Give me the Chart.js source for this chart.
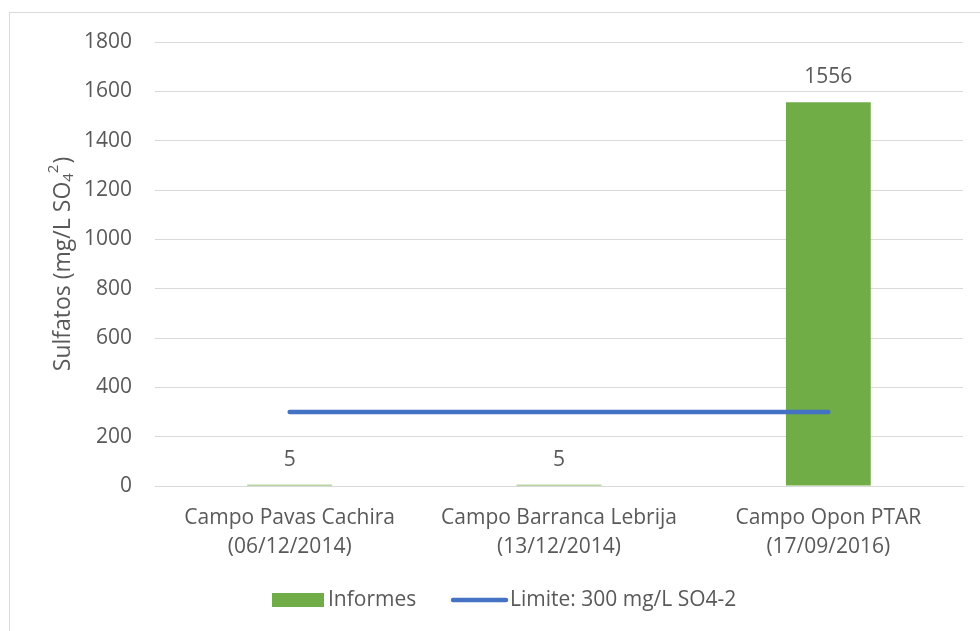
<!DOCTYPE html>
<html>
<head>
<meta charset="utf-8">
<script src="https://cdn.jsdelivr.net/npm/chart.js@4"></script>
<style>
  html, body { margin: 0; padding: 0; background: #fff; }
  #wrap { width: 980px; height: 631px; position: relative; }
</style>
</head>
<body>
<div id="wrap"><canvas id="c" width="980" height="631"></canvas></div>
<script>
const categories = [
  ["Campo Pavas Cachira", "(06/12/2014)"],
  ["Campo Barranca Lebrija", "(13/12/2014)"],
  ["Campo Opon PTAR", "(17/09/2016)"]
];
const informesValues = [5, 5, 1556];
const limiteValues = [300, 300, 300];
const informesLabel = "Informes";
const limiteLabel = "Limite: 300 mg/L SO4-2";
const yTicks = [0, 200, 400, 600, 800, 1000, 1200, 1400, 1600, 1800];

const FONT = "'Open Sans', sans-serif";
const TEXT = "#595959";
const GREEN = "#70AD47";
const BLUE = "#4472C4";
const GRID = "#D9D9D9";
const FS = 21;

const frame = {
  id: 'frame',
  beforeDraw(chart) {
    const ctx = chart.ctx;
    ctx.save();
    ctx.strokeStyle = GRID;
    ctx.lineWidth = 1;
    ctx.strokeRect(9.5, 12.5, 1000, 1000);
    ctx.restore();
  }
};

const yTitle = {
  id: 'yTitle',
  afterDraw(chart) {
    const ctx = chart.ctx;
    const a = chart.chartArea;
    const cy = (a.top + a.bottom) / 2;
    const cx = 63;
    const main = 23, small = 15;
    const t1 = "Sulfatos (mg/L SO", sub = "4", sup = "2", t2 = ")";
    ctx.save();
    ctx.translate(cx, cy);
    ctx.rotate(-Math.PI / 2);
    ctx.fillStyle = TEXT;
    ctx.textBaseline = 'middle';
    ctx.textAlign = 'left';
    ctx.font = main + "px " + FONT;
    const w1 = ctx.measureText(t1).width;
    const w2 = ctx.measureText(t2).width;
    ctx.font = small + "px " + FONT;
    const ws = ctx.measureText(sub).width;
    const wp = ctx.measureText(sup).width;
    const total = w1 + ws + wp + 1 + w2;
    let x = -total / 2;
    ctx.font = main + "px " + FONT;
    ctx.fillText(t1, x, 0);
    x += w1;
    ctx.font = small + "px " + FONT;
    ctx.fillText(sub, x, 6);
    x += ws;
    ctx.fillText(sup, x, -9);
    x += wp + 1;
    ctx.font = main + "px " + FONT;
    ctx.fillText(t2, x, 0);
    ctx.restore();
  }
};

const valueLabels = {
  id: 'valueLabels',
  afterDatasetsDraw(chart) {
    const ctx = chart.ctx;
    const meta = chart.getDatasetMeta(0);
    ctx.save();
    ctx.fillStyle = TEXT;
    ctx.font = FS + "px " + FONT;
    ctx.textAlign = 'center';
    ctx.textBaseline = 'middle';
    meta.data.forEach((bar, i) => {
      ctx.fillText(String(informesValues[i]), bar.x, bar.y - 25);
    });
    ctx.restore();
  }
};

const customLegend = {
  id: 'customLegend',
  afterDraw(chart) {
    const ctx = chart.ctx;
    const y = chart.chartArea.bottom + 114;
    ctx.save();
    ctx.font = FS + "px " + FONT;
    ctx.textBaseline = 'middle';
    ctx.textAlign = 'left';
    ctx.fillStyle = GREEN;
    ctx.fillRect(272, y - 7, 52, 14);
    ctx.fillStyle = TEXT;
    ctx.fillText(chart.data.datasets[0].label, 328, y);
    ctx.strokeStyle = BLUE;
    ctx.lineWidth = 4.5;
    ctx.lineCap = 'round';
    ctx.beginPath();
    ctx.moveTo(453, y);
    ctx.lineTo(506, y);
    ctx.stroke();
    ctx.fillText(chart.data.datasets[1].label, 510, y);
    ctx.restore();
  }
};

new Chart(document.getElementById('c'), {
  data: {
    labels: categories,
    datasets: [
      {
        type: 'bar',
        label: informesLabel,
        data: informesValues,
        backgroundColor: GREEN,
        barPercentage: 0.315,
        categoryPercentage: 1.0,
        order: 2
      },
      {
        type: 'line',
        label: limiteLabel,
        data: limiteValues,
        borderColor: BLUE,
        borderWidth: 4.5,
        borderCapStyle: 'round',
        pointRadius: 0,
        fill: false,
        order: 1
      }
    ]
  },
  options: {
    responsive: false,
    animation: false,
    devicePixelRatio: 1,
    layout: { padding: { left: 0, right: 17, top: 42, bottom: 0 } },
    plugins: {
      legend: { display: false },
      tooltip: { enabled: false }
    },
    scales: {
      x: {
        grid: { display: false, drawTicks: false },
        border: { display: true, color: GRID, width: 1 },
        ticks: {
          color: TEXT,
          font: { family: FONT, size: FS, lineHeight: 1.38 },
          padding: 18,
          maxRotation: 0,
          autoSkip: false
        },
        afterFit(s) { s.height = 145; }
      },
      y: {
        min: 0,
        max: 1800,
        afterBuildTicks(s) { s.ticks = yTicks.map(v => ({ value: v })); },
        grid: { color: GRID, lineWidth: 1, drawTicks: false },
        border: { display: false },
        ticks: {
          color: TEXT,
          font: { family: FONT, size: FS },
          padding: 23,
          callback: (v) => String(v)
        },
        afterFit(s) { s.width = 155; }
      }
    }
  },
  plugins: [frame, yTitle, valueLabels, customLegend]
});
</script>
</body>
</html>
